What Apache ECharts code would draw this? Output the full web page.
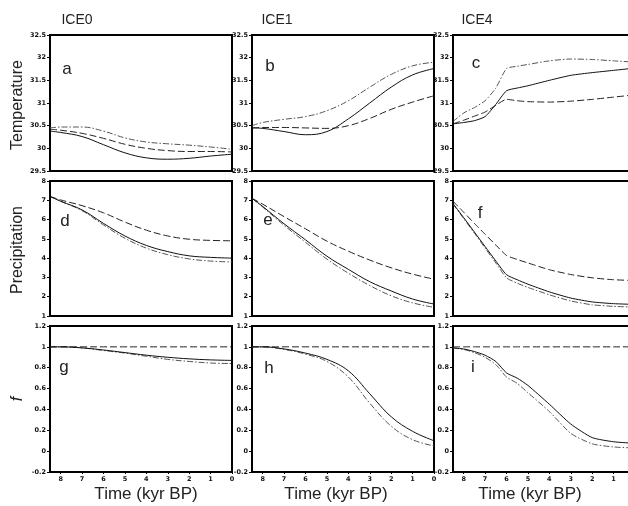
<!DOCTYPE html>
<html>
<head>
<meta charset="utf-8">
<script src="https://cdn.jsdelivr.net/npm/echarts@6/dist/echarts.min.js"></script>
<style>
  html, body { margin: 0; padding: 0; background: #fff; overflow: hidden; }
  /* wider than the window: the ICE4 column runs past the right edge, as in the figure */
  #chart { width: 645px; height: 506px; }
</style>
</head>
<body>
<div id="chart"></div>
<script>
// time in kyr BP (axis runs 8.5 -> 0)
var timeA = [8.5, 8, 7, 6, 5, 4, 3, 2, 1, 0];
var timeC = [8.5, 8, 7.5, 7, 6.5, 6, 5.5, 5, 4, 3, 2, 1, 0];

var columns = ['ICE0', 'ICE1', 'ICE4'];
var rowNames = ['Temperature', 'Precipitation', 'f'];
var letters = ['a', 'b', 'c', 'd', 'e', 'f', 'g', 'h', 'i'];

// temperature
var tempIce0Solid   = [30.38, 30.35, 30.26, 30.08, 29.9, 29.79, 29.76, 29.78, 29.83, 29.87];
var tempIce0Dash    = [30.42, 30.4, 30.33, 30.22, 30.09, 30.0, 29.95, 29.93, 29.93, 29.92];
var tempIce0DashDot = [30.45, 30.47, 30.47, 30.38, 30.23, 30.14, 30.1, 30.07, 30.03, 29.98];
var tempIce1Solid   = [30.45, 30.44, 30.37, 30.3, 30.37, 30.65, 31.0, 31.35, 31.62, 31.76];
var tempIce1Dash    = [30.45, 30.46, 30.46, 30.45, 30.44, 30.5, 30.66, 30.86, 31.02, 31.16];
var tempIce1DashDot = [30.5, 30.57, 30.64, 30.7, 30.83, 31.05, 31.35, 31.63, 31.82, 31.9];
var tempIce4Solid   = [30.54, 30.57, 30.61, 30.7, 30.97, 31.27, 31.33, 31.38, 31.5, 31.61, 31.67, 31.72, 31.77];
var tempIce4Dash    = [30.54, 30.62, 30.71, 30.8, 30.95, 31.08, 31.05, 31.03, 31.02, 31.04, 31.08, 31.13, 31.18];
var tempIce4DashDot = [30.59, 30.78, 30.9, 31.05, 31.33, 31.76, 31.81, 31.85, 31.93, 31.97, 31.96, 31.93, 31.9];

// precipitation
var precIce0Solid   = [7.2, 6.95, 6.5, 5.8, 5.15, 4.66, 4.34, 4.12, 4.04, 4.0];
var precIce0Dash    = [7.2, 7.02, 6.72, 6.35, 5.87, 5.45, 5.15, 4.98, 4.92, 4.9];
var precIce0DashDot = [7.2, 6.95, 6.46, 5.72, 5.03, 4.52, 4.18, 3.96, 3.85, 3.8];
var precIce1Solid   = [7.1, 6.68, 5.78, 4.95, 4.1, 3.42, 2.78, 2.3, 1.88, 1.62];
var precIce1Dash    = [7.1, 6.8, 6.15, 5.52, 4.88, 4.36, 3.9, 3.5, 3.17, 2.91];
var precIce1DashDot = [7.1, 6.65, 5.7, 4.82, 3.95, 3.22, 2.58, 2.05, 1.68, 1.45];
var precIce4Solid   = [6.83, 6.1, 5.35, 4.6, 3.85, 3.14, 2.88, 2.65, 2.25, 1.93, 1.73, 1.64, 1.6];
var precIce4Dash    = [6.95, 6.38, 5.8, 5.24, 4.68, 4.14, 3.93, 3.75, 3.4, 3.15, 2.98, 2.88, 2.84];
var precIce4DashDot = [6.8, 6.05, 5.3, 4.52, 3.75, 2.98, 2.7, 2.48, 2.1, 1.78, 1.58, 1.5, 1.46];

// f
var fIce0Solid   = [1.0, 1.0, 0.99, 0.97, 0.945, 0.92, 0.9, 0.885, 0.875, 0.87];
var fIce0Dash    = [1, 1, 1, 1, 1, 1, 1, 1, 1, 1];
var fIce0DashDot = [1.0, 1.0, 0.99, 0.965, 0.94, 0.91, 0.88, 0.86, 0.845, 0.84];
var fIce1Solid   = [1.0, 1.0, 0.98, 0.94, 0.88, 0.77, 0.55, 0.33, 0.19, 0.1];
var fIce1Dash    = [1, 1, 1, 1, 1, 1, 1, 1, 1, 1];
var fIce1DashDot = [1.0, 1.0, 0.975, 0.93, 0.86, 0.71, 0.46, 0.24, 0.11, 0.05];
var fIce4Solid   = [0.99, 0.98, 0.955, 0.92, 0.86, 0.75, 0.7, 0.63, 0.45, 0.26, 0.13, 0.09, 0.075];
var fIce4Dash    = [1, 1, 1, 1, 1, 1, 1, 1, 1, 1, 1, 1, 1];
var fIce4DashDot = [0.99, 0.975, 0.945, 0.9, 0.83, 0.71, 0.65, 0.56, 0.38, 0.17, 0.07, 0.04, 0.03];

// y ranges per row
var yMin = [29.5, 1, -0.2];
var yMax = [32.5, 8, 1.2];
var yStep = [0.5, 1, 0.2];

var panels = [
  [timeA, tempIce0Solid, tempIce0Dash, tempIce0DashDot],
  [timeA, tempIce1Solid, tempIce1Dash, tempIce1DashDot],
  [timeC, tempIce4Solid, tempIce4Dash, tempIce4DashDot],
  [timeA, precIce0Solid, precIce0Dash, precIce0DashDot],
  [timeA, precIce1Solid, precIce1Dash, precIce1DashDot],
  [timeC, precIce4Solid, precIce4Dash, precIce4DashDot],
  [timeA, fIce0Solid, fIce0Dash, fIce0DashDot],
  [timeA, fIce1Solid, fIce1Dash, fIce1DashDot],
  [timeC, fIce4Solid, fIce4Dash, fIce4DashDot]
];

var colLeft = [50, 252, 453];
var colWidth = 182;
var rowTop = [35, 181, 326];
var rowHeight = [136, 135, 146];

var lineStyles = [
  { color: '#111', width: 1, type: 'solid' },
  { color: '#222', width: 1, type: [7, 3] },
  { color: '#555', width: 1, type: [6, 2, 1.5, 2] }
];

var tickFont = { fontFamily: 'DejaVu Sans', fontWeight: 'bold', fontSize: 6.5, color: '#111' };

var grids = [], xAxes = [], yAxes = [], series = [];
for (var p = 0; p < 9; p++) {
  var r = Math.floor(p / 3), c = p % 3;
  grids.push({
    left: colLeft[c], top: rowTop[r], width: colWidth, height: rowHeight[r],
    show: true, borderColor: '#000', borderWidth: 2, backgroundColor: 'transparent'
  });
  xAxes.push({
    gridIndex: p, type: 'value', min: 0, max: 8.5, interval: 1, inverse: true,
    axisLine: { show: false, onZero: false },
    axisTick: { show: r === 2, length: 2, lineStyle: { color: '#000' } },
    axisLabel: Object.assign({ show: r === 2, margin: 4, showMaxLabel: false }, tickFont),
    splitLine: { show: false }
  });
  yAxes.push({
    gridIndex: p, type: 'value', min: yMin[r], max: yMax[r], interval: yStep[r],
    axisLine: { show: false, onZero: false },
    axisTick: { show: true, length: 3, lineStyle: { color: '#000' } },
    axisLabel: Object.assign({ margin: 4 }, tickFont),
    splitLine: { show: false }
  });
  var xs = panels[p][0];
  for (var k = 0; k < 3; k++) {
    var ys = panels[p][k + 1];
    series.push({
      type: 'line', xAxisIndex: p, yAxisIndex: p,
      data: xs.map(function (x, i) { return [x, ys[i]]; }),
      symbol: 'none', showSymbol: false,
      smooth: c === 2 ? 0.2 : 0.4,
      lineStyle: lineStyles[k], itemStyle: { color: lineStyles[k].color },
      z: 3 - k
    });
  }
}

var labelFont = 'Liberation Sans, Arial, sans-serif';
var graphics = [];
var titleX = [77, 277, 477];
columns.forEach(function (t, i) {
  graphics.push({ type: 'text', x: titleX[i], y: 20,
    style: { text: t, font: '14px ' + labelFont, fill: '#222', align: 'center', verticalAlign: 'middle' } });
});
var nameY = [105, 250, 399];
rowNames.forEach(function (t, i) {
  graphics.push({ type: 'text', x: 18, y: nameY[i], rotation: Math.PI / 2,
    style: { text: t, font: (i === 2 ? 'italic ' : '') + '16px ' + labelFont, fill: '#222',
      align: 'center', verticalAlign: 'middle' } });
});
var letterPos = [[67, 69], [270, 66], [476, 63], [65, 221], [268, 220], [480, 213], [64, 367], [269, 368], [473, 367]];
letters.forEach(function (t, i) {
  graphics.push({ type: 'text', x: letterPos[i][0], y: letterPos[i][1],
    style: { text: t, font: '17px ' + labelFont, fill: '#222', align: 'center', verticalAlign: 'middle' } });
});
var timeX = [146, 336, 530];
timeX.forEach(function (x) {
  graphics.push({ type: 'text', x: x, y: 494,
    style: { text: 'Time (kyr BP)', font: '17px ' + labelFont, fill: '#222', align: 'center', verticalAlign: 'middle' } });
});

var chart = echarts.init(document.getElementById('chart'));
chart.setOption({
  animation: false,
  backgroundColor: '#fff',
  grid: grids,
  xAxis: xAxes,
  yAxis: yAxes,
  series: series,
  graphic: graphics
});
</script>
</body>
</html>
